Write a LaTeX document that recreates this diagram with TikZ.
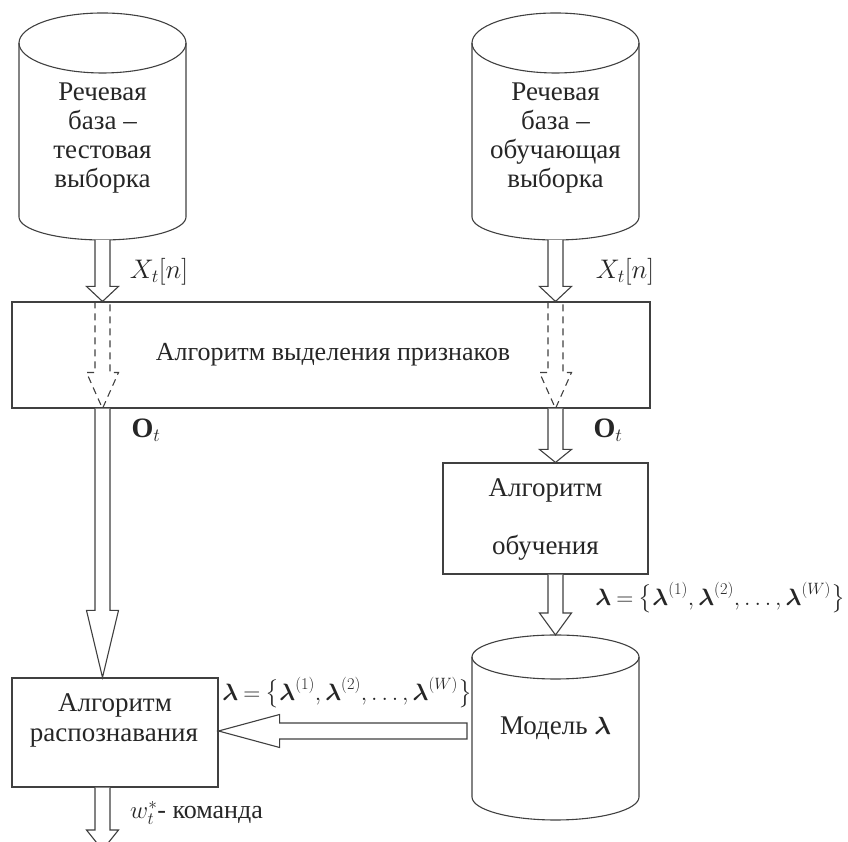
\documentclass[tikz,border=0pt]{standalone}
\usepackage{amsmath}
\usepackage{fontspec}
\setmainfont{Liberation Serif}
\usetikzlibrary{calc}
\tikzset{
  ln/.style={draw=black!75, line width=1.1pt},
  blk/.style={draw=black!75, line width=1.1pt, fill=white, line join=miter},
  dsh/.style={draw=black!75, line width=1.1pt, dash pattern=on 7pt off 5pt},
  box/.style={draw=black!75, line width=1.1pt, rectangle, inner sep=0pt},
  txt/.style={text=black!85, inner sep=0pt, font=\fontsize{27}{29}\selectfont, align=center},
  lbl/.style={text=black!85, inner sep=0pt, font=\fontsize{26}{29}\selectfont},
  mlbl/.style={lbl, scale=1.08, transform shape},
  lamlbl/.style={lbl, scale=0.95, transform shape}
}
\newcommand{\lamset}{$\thickmuskip=4mu\boldsymbol{\lambda}=\bigl\{\boldsymbol{\lambda}^{(1)},\boldsymbol{\lambda}^{(2)},\ldots,\boldsymbol{\lambda}^{(W)}\bigr\}$}
% vertical block arrow: #1 from, #2 tip, #3 head length
\newcommand{\blkdown}[3]{%
  \draw[blk] let \p1=(#1), \p2=(#2) in
    (\x1-7.5,\y1) -- (\x1-7.5,\y2+#3) -- (\x1-16,\y2+#3) -- (\x1,\y2)
    -- (\x1+16,\y2+#3) -- (\x1+7.5,\y2+#3) -- (\x1+7.5,\y1);}
\newcommand{\dshdown}[3]{%
  \draw[dsh] let \p1=(#1), \p2=(#2) in
    (\x1-7.5,\y1) -- (\x1-7.5,\y2+#3) -- (\x1-16,\y2+#3) -- (\x1,\y2)
    -- (\x1+16,\y2+#3) -- (\x1+7.5,\y2+#3) -- (\x1+7.5,\y1);}
\begin{document}
\begin{tikzpicture}[x=1pt,y=1pt]
\useasboundingbox (0,0) rectangle (848,842);

% cylinders
\draw[ln] (102.5,799) ellipse [x radius=83.5, y radius=30];
\draw[ln] (19,799) -- (19,625) arc[start angle=180, end angle=360, x radius=83.5, y radius=23] -- (186,799);
\draw[ln] (555.5,799) ellipse [x radius=83.5, y radius=30];
\draw[ln] (472,799) -- (472,625) arc[start angle=180, end angle=360, x radius=83.5, y radius=23] -- (639,799);
\draw[ln] (555.5,185) ellipse [x radius=83.5, y radius=22];
\draw[ln] (472,185) -- (472,45) arc[start angle=180, end angle=360, x radius=83.5, y radius=23] -- (639,185);

\node[txt] (db1) at (102.5,703.5) {Речевая\\база –\\тестовая\\выборка};
\node[txt] (db2) at (555.5,703.5) {Речевая\\база –\\обучающая\\выборка};
\node[txt] (mdl) at (555.5,114) {Модель $\boldsymbol{\lambda}$};

\coordinate (c1b) at (102.5,602);
\coordinate (c2b) at (555.5,602);
\coordinate (mtop) at (555.5,207);
\coordinate (mleft) at (467,111);
\coordinate (outend) at (102.5,-8);

% boxes
\node[box, minimum width=638, minimum height=106] (feat) at (331,487) {};
\node[txt, font=\fontsize{26}{29}\selectfont] (feattxt) at (333,487) {Алгоритм выделения признаков};
\node[box, minimum width=205, minimum height=111] (learn) at (545.5,323.5) {};
\node[txt] (learn1) at (545.5,352) {Алгоритм};
\node[txt] (learn2) at (545.5,294) {обучения};
\node[box, minimum width=206, minimum height=109] (rec) at (115,109.5) {};
\node[txt] (rec1) at (115,137) {Алгоритм};
\node[txt] (rec2) at (114,104) {распознавания};

% arrows
\blkdown{c1b}{c1b |- feat.north}{15}
\blkdown{c2b}{c2b |- feat.north}{15}
\dshdown{c1b |- feat.north}{c1b |- feat.south}{36}
\dshdown{c2b |- feat.north}{c2b |- feat.south}{36}
\blkdown{c1b |- feat.south}{c1b |- rec.north}{67}
\blkdown{c2b |- feat.south}{c2b |- learn.north}{13}
\blkdown{c2b |- learn.south}{mtop}{22}
\blkdown{c1b |- rec.south}{outend}{20}
\draw[blk] let \p1=(mleft), \p2=(rec.east |- mleft) in
  (\x1,\y1-8) -- (\x2+61,\y1-8) -- (\x2+61,\y1-16.5) -- (\x2,\y1)
  -- (\x2+61,\y1+16.5) -- (\x2+61,\y1+8) -- (\x1,\y1+8) -- cycle;

% labels
\node[mlbl] (x1) at (159,570) {$X_t[n]$};
\node[mlbl] (x2) at (625,570) {$X_t[n]$};
\node[mlbl] (o1) at (146,412) {$\mathbf{O}_t$};
\node[mlbl] (o2) at (608,412) {$\mathbf{O}_t$};
\node[lamlbl, anchor=east] (lam1) at (845,244) {\lamset};
\node[lamlbl, anchor=east] (lam2) at (472,149) {\lamset};
\node[lbl, anchor=west] (cmd) at (130,29) {$w_t^*$- команда};
\end{tikzpicture}
\end{document}
